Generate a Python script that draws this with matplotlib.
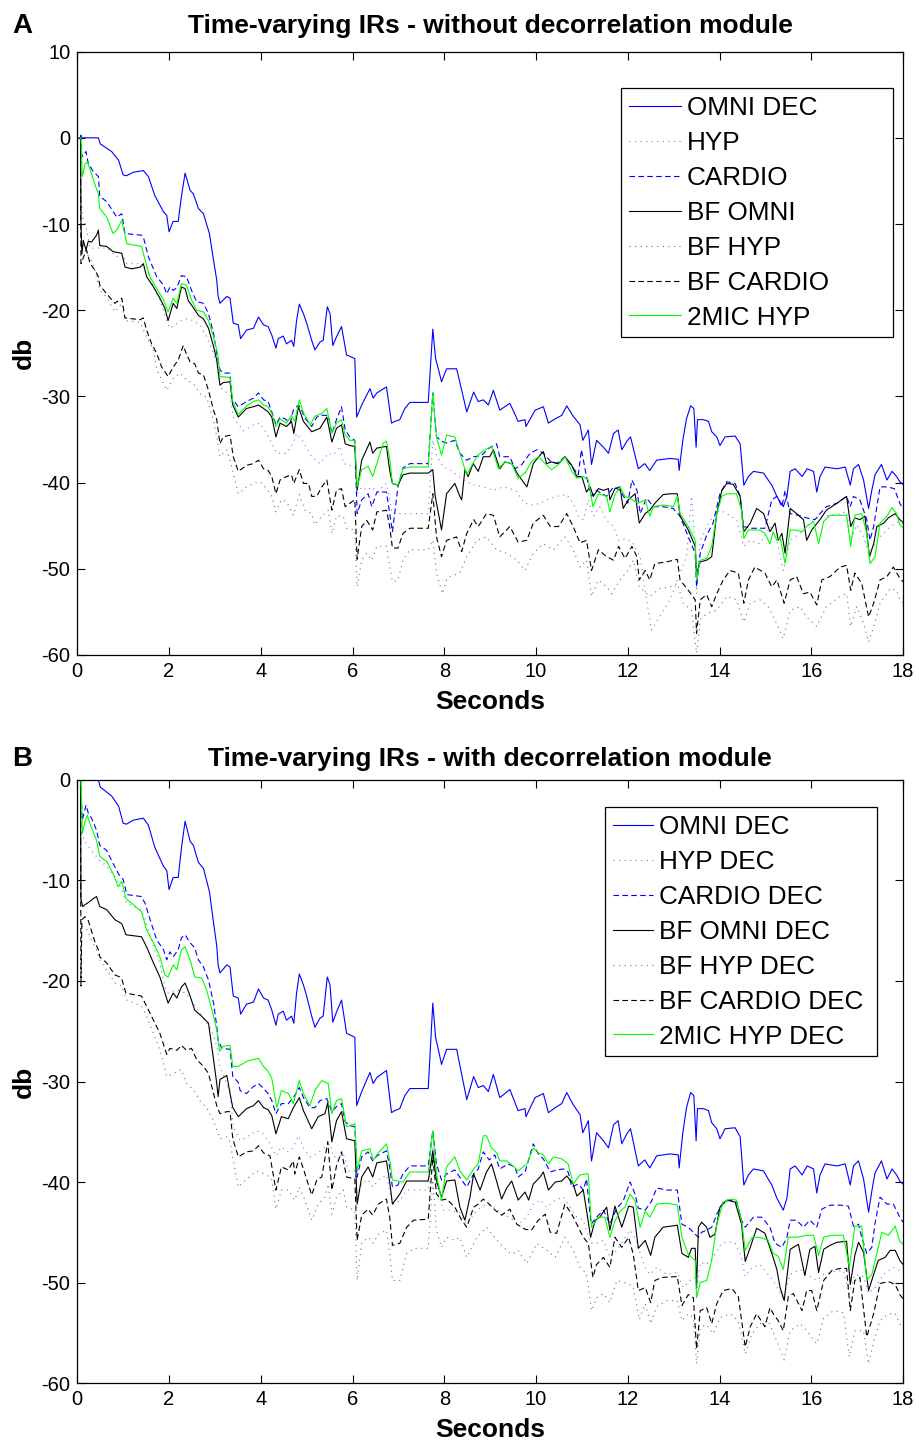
import matplotlib
matplotlib.use('Agg')
import matplotlib.pyplot as plt

plt.rcParams['font.family'] = ['Liberation Sans', 'DejaVu Sans']
plt.rcParams['axes.unicode_minus'] = False

# decay curves as (seconds, dB) pairs
omni_dec = [(0, 0), (0.46, 0), (0.5, -0.7), (0.75, -1.6), (0.9, -2.6), (1.0, -4.3), (1.07, -4.4), (1.22, -4.0),
            (1.44, -3.8), (1.55, -4.5), (1.69, -6.7), (1.88, -8.6), (1.95, -9.0), (2.0, -10.9), (2.09, -9.7),
            (2.2, -9.7), (2.27, -6.8), (2.35, -4.1), (2.46, -6.1), (2.53, -6.5), (2.64, -8.2), (2.75, -8.8),
            (2.88, -11.1), (2.97, -14.2), (3.04, -16.5), (3.07, -18.4), (3.11, -19.2), (3.26, -18.4), (3.33, -18.6),
            (3.4, -21.5), (3.51, -21.7), (3.56, -23.3), (3.69, -22.3), (3.84, -22.1), (3.95, -20.8), (4.06, -21.7),
            (4.16, -21.9), (4.24, -22.9), (4.33, -24.4), (4.38, -23.3), (4.49, -23.0), (4.56, -23.9), (4.67, -23.5),
            (4.72, -24.2), (4.78, -21.2), (4.84, -19.3), (4.93, -20.4), (5.0, -21.5), (5.11, -23.5), (5.18, -24.6),
            (5.29, -23.7), (5.36, -23.5), (5.45, -19.6), (5.51, -20.4), (5.57, -24.1), (5.65, -23.1), (5.76, -21.9),
            (5.87, -25.2), (6.05, -25.6), (6.09, -32.4), (6.2, -31.0), (6.38, -29.1), (6.45, -30.2), (6.53, -29.6),
            (6.74, -28.9), (6.85, -33.1), (6.92, -32.9), (7.03, -32.7), (7.14, -31.4), (7.25, -30.7), (7.65, -30.7),
            (7.75, -22.2), (7.81, -25.6), (7.87, -26.8), (7.94, -28.3), (8.05, -26.8), (8.27, -26.8), (8.38, -29.3),
            (8.49, -31.8), (8.64, -29.5), (8.74, -30.6), (8.85, -30.4), (8.96, -31.0), (9.07, -29.3), (9.21, -31.6),
            (9.43, -30.8), (9.61, -32.9), (9.76, -32.7), (9.78, -33.5), (9.98, -31.6), (10.16, -31.2), (10.27, -33.1),
            (10.42, -32.6), (10.56, -32.2), (10.67, -31.1), (10.81, -32.3), (10.96, -33.3), (11.02, -35.1),
            (11.14, -33.9), (11.21, -37.9), (11.32, -35.1), (11.47, -35.9), (11.58, -36.6), (11.69, -34.3),
            (11.79, -33.9), (11.87, -36.2), (11.98, -35.2), (12.06, -34.7), (12.12, -36.0), (12.23, -38.4),
            (12.37, -37.8), (12.48, -38.6), (12.63, -37.4), (12.92, -37.2), (13.1, -37.3), (13.12, -38.6),
            (13.2, -35.1), (13.28, -32.6), (13.37, -31.1), (13.44, -31.4), (13.49, -35.9), (13.52, -32.7),
            (13.65, -32.7), (13.76, -32.9), (13.83, -34.1), (13.94, -34.7), (14.01, -35.7), (14.12, -34.7),
            (14.34, -34.6), (14.45, -35.5), (14.53, -40.3), (14.63, -39.3), (14.74, -38.7), (14.96, -38.9),
            (15.06, -39.7), (15.14, -40.3), (15.25, -41.6), (15.39, -42.8), (15.47, -41.6), (15.54, -38.7),
            (15.65, -38.4), (15.8, -39.3), (15.91, -38.4), (16.05, -38.7), (16.12, -41.1), (16.19, -39.3),
            (16.3, -38.2), (16.56, -38.4), (16.74, -38.2), (16.85, -40.3), (16.92, -38.4), (17.03, -37.9),
            (17.14, -39.7), (17.25, -43.0), (17.32, -40.9), (17.39, -39.1), (17.53, -37.9), (17.65, -39.7),
            (17.76, -38.7), (17.86, -39.3), (17.93, -39.9), (18.0, -40.2)]

hyp = [(0, 0), (0.07, 0), (0.08, -7.0), (0.12, -9.2), (0.19, -10.3), (0.28, -12.8), (0.49, -12.8), (0.64, -12.8),
       (0.86, -13.8), (0.97, -13.4), (1.08, -14.6), (1.37, -14.6), (1.51, -15.0), (1.66, -17.3), (1.8, -18.8),
       (1.95, -21.2), (2.02, -22.1), (2.13, -21.7), (2.27, -21.2), (2.38, -21.0), (2.53, -21.2), (2.67, -21.7),
       (2.82, -23.1), (2.97, -25.0), (3.04, -26.2), (3.11, -28.9), (3.33, -29.9), (3.4, -32.4), (3.62, -34.0),
       (3.84, -33.3), (3.98, -33.1), (4.13, -34.3), (4.27, -35.8), (4.35, -36.6), (4.56, -36.6), (4.71, -35.4),
       (4.78, -34.3), (4.93, -35.3), (5.11, -37.0), (5.29, -37.8), (5.47, -36.6), (5.58, -36.8), (5.73, -35.8),
       (5.8, -37.8), (5.94, -38.0), (6.05, -38.1), (6.1, -41.3), (6.2, -40.5), (6.31, -40.9), (6.42, -40.5),
       (6.53, -41.1), (6.74, -40.1), (6.87, -43.6), (7.1, -43.6), (7.65, -43.6), (7.75, -35.1), (7.83, -36.8),
       (7.98, -38.2), (8.12, -38.5), (8.42, -39.7), (8.64, -40.3), (8.85, -40.5), (9.07, -40.9), (9.29, -40.5),
       (9.55, -40.9), (9.75, -42.4), (9.93, -42.6), (10.1, -42.4), (10.23, -42.0), (10.45, -41.6), (10.67, -41.4),
       (10.81, -42.4), (10.92, -43.9), (11.03, -44.3), (11.14, -42.0), (11.25, -43.9), (11.39, -42.8),
       (11.54, -44.4), (11.69, -45.1), (11.8, -46.7), (11.98, -46.5), (12.12, -47.1), (12.27, -48.6),
       (12.41, -53.6), (12.52, -57.1), (12.7, -55.5), (12.92, -53.6), (13.14, -50.5), (13.28, -48.6),
       (13.39, -41.6), (13.47, -47.4), (13.5, -52.9), (13.58, -46.7), (13.72, -45.1), (13.86, -43.9),
       (14.01, -43.2), (14.16, -43.6), (14.37, -44.3), (14.53, -47.4), (14.67, -46.7), (14.88, -47.1),
       (15.1, -45.1), (15.25, -46.7), (15.39, -50.2), (15.54, -46.7), (15.76, -45.9), (15.97, -44.7),
       (16.19, -43.9), (16.41, -43.8), (16.63, -43.6), (16.77, -43.4), (16.86, -46.7), (16.99, -44.9),
       (17.14, -46.3), (17.25, -48.2), (17.36, -47.4), (17.5, -46.3), (17.72, -45.1), (17.93, -44.5), (18.0, -44.8)]

cardio = [(0, 0), (0.07, 0), (0.08, 0.5), (0.1, -2.2), (0.19, -1.6), (0.24, -3.0), (0.35, -3.9), (0.46, -4.5),
          (0.49, -6.8), (0.64, -7.4), (0.86, -9.2), (0.97, -8.8), (1.04, -11.1), (1.4, -11.3), (1.44, -11.5),
          (1.55, -13.8), (1.73, -16.1), (1.88, -17.1), (1.95, -18.1), (2.02, -17.3), (2.09, -17.7), (2.17, -17.4),
          (2.27, -16.0), (2.38, -16.1), (2.49, -17.7), (2.6, -19.0), (2.75, -19.2), (2.86, -20.4), (2.97, -22.7),
          (3.04, -25.0), (3.07, -25.8), (3.11, -26.9), (3.18, -27.3), (3.33, -27.3), (3.37, -30.2), (3.51, -31.2),
          (3.69, -30.6), (3.84, -30.2), (3.95, -29.6), (4.06, -30.4), (4.16, -30.6), (4.24, -31.8), (4.33, -33.3),
          (4.42, -32.4), (4.53, -32.6), (4.64, -33.1), (4.71, -31.6), (4.82, -31.0), (4.89, -31.6), (4.96, -32.5),
          (5.11, -33.5), (5.22, -32.4), (5.33, -32.2), (5.47, -32.2), (5.55, -34.3), (5.65, -32.7), (5.76, -31.2),
          (5.84, -33.9), (5.94, -34.7), (6.05, -35.1), (6.1, -43.6), (6.2, -42.0), (6.34, -41.3), (6.42, -42.8),
          (6.53, -41.1), (6.74, -41.1), (6.81, -43.6), (6.87, -45.7), (6.99, -40.5), (7.1, -38.3), (7.25, -37.8),
          (7.65, -37.8), (7.75, -29.6), (7.83, -34.7), (7.98, -35.3), (8.05, -35.4), (8.23, -35.1), (8.34, -36.6),
          (8.49, -37.4), (8.64, -37.0), (8.8, -36.9), (8.98, -36.0), (9.14, -35.5), (9.21, -37.0), (9.43, -37.0),
          (9.54, -38.4), (9.69, -37.9), (9.87, -36.6), (10.02, -36.2), (10.16, -36.6), (10.31, -37.5),
          (10.45, -37.8), (10.63, -37.0), (10.78, -38.1), (10.92, -39.1), (10.99, -36.2), (11.1, -39.3),
          (11.21, -41.6), (11.32, -40.9), (11.54, -41.6), (11.69, -40.5), (11.83, -40.9), (12.0, -42.4),
          (12.09, -39.7), (12.2, -40.9), (12.27, -43.6), (12.41, -41.8), (12.56, -42.8), (12.77, -42.8),
          (12.99, -43.0), (13.14, -43.9), (13.32, -46.3), (13.47, -48.2), (13.5, -52.1), (13.58, -48.2),
          (13.72, -46.1), (13.86, -44.7), (14.01, -41.3), (14.16, -39.9), (14.34, -40.1), (14.45, -41.6),
          (14.52, -45.1), (14.67, -45.3), (14.99, -45.3), (15.14, -42.0), (15.25, -41.6), (15.36, -42.8),
          (15.43, -40.9), (15.54, -43.6), (15.72, -43.8), (15.9, -44.1), (16.08, -44.3), (16.19, -43.6),
          (16.33, -42.8), (16.56, -42.4), (16.77, -41.6), (16.85, -42.8), (16.92, -41.6), (17.06, -42.0),
          (17.21, -44.3), (17.28, -46.7), (17.36, -45.1), (17.5, -40.5), (17.65, -40.5), (17.81, -40.7),
          (17.93, -42.4), (18.0, -43.0)]

bf_omni = [(0, 0), (0.07, 0), (0.08, -9.9), (0.1, -13.5), (0.13, -11.9), (0.19, -13.0), (0.24, -12.0), (0.31, -12.1),
           (0.42, -11.3), (0.46, -10.7), (0.49, -12.5), (0.64, -12.6), (0.78, -13.2), (0.97, -13.4), (1.04, -15.0),
           (1.19, -15.2), (1.37, -15.0), (1.44, -14.6), (1.51, -16.1), (1.66, -17.3), (1.8, -18.6), (1.91, -19.8),
           (1.98, -21.2), (2.09, -19.2), (2.17, -19.8), (2.27, -17.3), (2.35, -17.5), (2.42, -18.9), (2.49, -19.4),
           (2.64, -20.6), (2.75, -21.0), (2.86, -22.1), (2.97, -24.2), (3.04, -25.8), (3.11, -28.7), (3.18, -28.4),
           (3.33, -28.3), (3.39, -31.0), (3.51, -32.4), (3.69, -31.4), (3.84, -31.2), (3.95, -31.0), (4.06, -31.4),
           (4.16, -31.8), (4.24, -32.4), (4.33, -34.7), (4.42, -33.1), (4.56, -33.5), (4.67, -32.9), (4.72, -34.3),
           (4.82, -31.2), (4.93, -32.9), (5.11, -34.1), (5.29, -33.7), (5.44, -32.4), (5.55, -35.3), (5.65, -33.7),
           (5.76, -33.3), (5.84, -35.5), (5.94, -35.7), (6.05, -35.8), (6.1, -40.9), (6.2, -37.4), (6.38, -35.3),
           (6.44, -36.6), (6.53, -36.0), (6.74, -35.8), (6.81, -38.6), (6.87, -40.1), (6.99, -40.3), (7.1, -39.1),
           (7.25, -38.9), (7.65, -38.9), (7.75, -38.5), (7.8, -41.5), (7.94, -45.5), (8.05, -41.3), (8.23, -40.1),
           (8.34, -41.6), (8.38, -42.0), (8.45, -38.5), (8.52, -39.3), (8.63, -37.8), (8.74, -38.7), (8.85, -37.0),
           (8.99, -37.0), (9.07, -36.2), (9.21, -38.4), (9.32, -37.6), (9.47, -37.8), (9.61, -39.1), (9.8, -40.5),
           (9.94, -37.8), (10.09, -36.8), (10.16, -36.4), (10.23, -37.8), (10.34, -37.6), (10.49, -37.8),
           (10.63, -37.0), (10.78, -38.0), (10.89, -39.3), (11.0, -39.3), (11.1, -41.1), (11.18, -40.5),
           (11.25, -41.6), (11.36, -40.7), (11.47, -40.9), (11.58, -40.7), (11.61, -42.0), (11.72, -40.7),
           (11.83, -40.5), (11.9, -43.0), (12.01, -42.0), (12.16, -41.3), (12.25, -44.7), (12.38, -43.6),
           (12.48, -43.2), (12.59, -42.4), (12.77, -41.4), (12.92, -41.3), (13.08, -41.3), (13.14, -43.9),
           (13.32, -45.5), (13.47, -47.4), (13.5, -50.5), (13.58, -49.2), (13.72, -49.0), (13.83, -48.6),
           (13.94, -43.6), (14.05, -40.9), (14.16, -40.1), (14.3, -40.2), (14.45, -41.6), (14.53, -45.7),
           (14.67, -44.7), (14.81, -43.0), (14.96, -43.6), (15.1, -45.7), (15.21, -44.7), (15.28, -46.7),
           (15.36, -45.9), (15.43, -48.2), (15.54, -43.0), (15.68, -43.6), (15.83, -44.3), (15.9, -46.7),
           (16.01, -45.5), (16.19, -44.3), (16.33, -43.2), (16.56, -42.4), (16.77, -41.6), (16.86, -45.1),
           (16.95, -44.1), (17.06, -44.3), (17.17, -43.9), (17.27, -48.6), (17.36, -47.1), (17.43, -45.1),
           (17.58, -44.7), (17.68, -44.1), (17.83, -43.6), (17.93, -44.3), (18.0, -44.6)]

bf_hyp = [(0, 0), (0.07, 0), (0.08, -12.0), (0.2, -13.4), (0.35, -14.6), (0.49, -17.7), (0.64, -18.5), (0.82, -20.2),
          (0.97, -19.2), (1.04, -21.2), (1.37, -21.4), (1.51, -23.1), (1.66, -24.6), (1.73, -26.8), (1.95, -29.3),
          (2.09, -27.9), (2.24, -27.3), (2.38, -28.1), (2.53, -28.5), (2.67, -29.7), (2.82, -30.1), (2.97, -32.8),
          (3.04, -34.7), (3.11, -37.0), (3.26, -36.2), (3.33, -37.4), (3.4, -38.9), (3.51, -41.3), (3.69, -40.5),
          (3.84, -40.1), (3.98, -39.9), (4.13, -40.7), (4.24, -41.6), (4.33, -43.4), (4.45, -42.0), (4.56, -42.2),
          (4.71, -43.8), (4.84, -41.4), (4.96, -43.2), (5.11, -43.6), (5.18, -44.9), (5.33, -43.9), (5.47, -43.2),
          (5.55, -45.9), (5.65, -43.9), (5.8, -43.9), (5.87, -45.3), (6.05, -45.5), (6.1, -52.1), (6.2, -49.0),
          (6.31, -48.2), (6.42, -49.0), (6.53, -47.4), (6.74, -47.4), (6.81, -49.7), (6.87, -51.5), (6.99, -51.3),
          (7.1, -49.0), (7.25, -47.8), (7.65, -47.8), (7.75, -46.7), (7.83, -50.5), (7.96, -52.9), (8.05, -51.3),
          (8.12, -50.9), (8.34, -50.5), (8.49, -48.6), (8.71, -46.7), (8.92, -46.3), (9.14, -47.8), (9.36, -48.2),
          (9.58, -49.0), (9.76, -50.2), (9.94, -48.2), (10.16, -47.1), (10.38, -47.8), (10.63, -46.3),
          (10.81, -47.8), (10.96, -49.8), (11.1, -49.0), (11.21, -53.2), (11.36, -51.3), (11.54, -52.1),
          (11.65, -52.9), (11.83, -51.3), (12.0, -50.2), (12.12, -49.0), (12.25, -52.1), (12.48, -53.2),
          (12.7, -52.3), (12.92, -52.1), (13.08, -51.7), (13.21, -54.0), (13.39, -54.8), (13.5, -59.8),
          (13.58, -55.9), (13.72, -55.2), (13.94, -54.8), (14.16, -53.2), (14.37, -53.6), (14.53, -56.2),
          (14.67, -54.0), (14.88, -53.6), (15.06, -54.4), (15.18, -55.6), (15.39, -58.1), (15.54, -54.8),
          (15.76, -54.4), (15.9, -55.6), (16.12, -56.7), (16.33, -54.4), (16.63, -53.2), (16.77, -52.9),
          (16.86, -56.7), (16.99, -54.4), (17.14, -56.3), (17.25, -58.5), (17.36, -56.7), (17.5, -54.0),
          (17.72, -52.3), (17.86, -52.5), (17.93, -53.6), (18.0, -54.0)]

bf_cardio = [(0, 0), (0.07, 0), (0.08, -14.6), (0.2, -13.0), (0.28, -14.6), (0.39, -15.4), (0.46, -16.1),
             (0.49, -17.1), (0.64, -18.1), (0.82, -19.2), (0.97, -18.6), (1.04, -20.9), (1.37, -21.1), (1.44, -20.9),
             (1.51, -22.3), (1.62, -23.9), (1.73, -25.0), (1.84, -26.6), (1.98, -27.7), (2.09, -26.6), (2.2, -25.8),
             (2.31, -24.1), (2.38, -25.1), (2.46, -26.0), (2.56, -26.2), (2.64, -27.3), (2.75, -27.5), (2.86, -29.3),
             (2.97, -31.6), (3.04, -32.7), (3.11, -35.5), (3.18, -34.7), (3.33, -34.5), (3.4, -37.0), (3.51, -38.7),
             (3.69, -38.0), (3.84, -37.8), (3.95, -37.4), (4.06, -38.4), (4.16, -38.6), (4.24, -39.3), (4.33, -41.3),
             (4.42, -39.7), (4.56, -39.3), (4.67, -39.1), (4.72, -40.1), (4.84, -38.5), (4.93, -40.1), (5.04, -40.1),
             (5.11, -41.6), (5.22, -41.6), (5.33, -40.5), (5.44, -39.7), (5.55, -43.2), (5.65, -40.9), (5.76, -40.7),
             (5.84, -42.8), (5.94, -42.4), (6.05, -42.0), (6.1, -48.9), (6.2, -45.1), (6.31, -44.4), (6.44, -45.5),
             (6.53, -43.4), (6.74, -43.2), (6.81, -45.1), (6.87, -47.6), (6.99, -47.6), (7.1, -45.9), (7.25, -45.3),
             (7.65, -45.3), (7.75, -41.3), (7.83, -46.3), (7.94, -48.6), (8.05, -46.7), (8.27, -46.3), (8.38, -48.0),
             (8.49, -45.9), (8.64, -44.3), (8.74, -45.1), (8.92, -43.6), (9.07, -43.8), (9.21, -46.3), (9.43, -45.1),
             (9.61, -46.9), (9.8, -46.7), (9.94, -44.7), (10.16, -43.8), (10.31, -45.1), (10.49, -45.1),
             (10.67, -43.6), (10.81, -45.1), (10.96, -47.0), (11.1, -46.7), (11.21, -50.2), (11.36, -47.8),
             (11.54, -48.6), (11.69, -49.0), (11.8, -47.4), (11.94, -48.8), (12.09, -47.4), (12.2, -48.6),
             (12.25, -51.3), (12.38, -50.2), (12.48, -51.3), (12.59, -49.4), (12.85, -49.2), (13.08, -48.9),
             (13.14, -51.3), (13.32, -52.5), (13.47, -53.6), (13.5, -57.5), (13.58, -53.6), (13.72, -53.0),
             (13.83, -54.4), (13.94, -52.9), (14.08, -51.3), (14.23, -50.2), (14.41, -50.5), (14.53, -54.0),
             (14.63, -51.3), (14.77, -49.8), (14.99, -50.5), (15.14, -52.1), (15.25, -51.3), (15.41, -54.0),
             (15.54, -51.3), (15.68, -50.9), (15.83, -52.9), (15.97, -52.7), (16.12, -54.2), (16.23, -51.3),
             (16.41, -50.9), (16.63, -49.8), (16.77, -49.6), (16.86, -52.5), (16.95, -50.5), (17.1, -51.7),
             (17.25, -55.6), (17.36, -54.0), (17.5, -51.3), (17.65, -50.9), (17.79, -49.8), (17.93, -51.1),
             (18.0, -51.5)]

mic2_hyp = [(0, 0), (0.08, 0), (0.11, -4.5), (0.17, -3.0), (0.22, -2.8), (0.28, -3.7), (0.39, -5.5), (0.46, -6.5),
            (0.49, -8.2), (0.64, -9.2), (0.78, -11.1), (0.86, -10.7), (0.97, -9.6), (1.08, -12.3), (1.4, -12.6),
            (1.48, -14.2), (1.58, -16.1), (1.73, -17.5), (1.88, -18.8), (1.98, -20.2), (2.09, -18.6), (2.17, -19.2),
            (2.27, -16.9), (2.38, -17.1), (2.49, -18.8), (2.6, -20.0), (2.75, -20.2), (2.86, -21.2), (2.97, -23.1),
            (3.04, -24.6), (3.07, -25.4), (3.11, -27.7), (3.33, -27.8), (3.39, -30.6), (3.51, -32.1), (3.69, -31.1),
            (3.84, -30.6), (3.95, -30.4), (4.06, -31.0), (4.16, -31.2), (4.24, -32.0), (4.33, -33.5), (4.42, -32.6),
            (4.56, -33.1), (4.67, -32.2), (4.74, -32.9), (4.84, -30.4), (4.93, -31.9), (5.08, -33.3), (5.18, -32.3),
            (5.33, -32.0), (5.44, -31.4), (5.55, -34.3), (5.65, -33.1), (5.76, -32.7), (5.84, -34.5), (5.94, -35.1),
            (6.05, -35.1), (6.1, -40.5), (6.2, -38.5), (6.34, -38.1), (6.44, -39.3), (6.53, -37.8), (6.67, -35.4),
            (6.74, -35.2), (6.81, -37.2), (6.87, -40.1), (6.99, -40.3), (7.1, -38.4), (7.25, -38.2), (7.65, -38.2),
            (7.75, -29.6), (7.83, -34.7), (7.94, -36.8), (8.05, -34.5), (8.23, -34.7), (8.34, -36.6), (8.49, -39.1),
            (8.64, -37.6), (8.74, -36.8), (8.88, -36.2), (9.03, -35.8), (9.18, -38.4), (9.32, -37.6), (9.47, -37.8),
            (9.61, -39.5), (9.76, -38.9), (9.9, -37.6), (10.05, -37.0), (10.2, -37.8), (10.34, -38.5),
            (10.49, -37.9), (10.63, -37.0), (10.78, -38.7), (10.89, -39.5), (11.03, -39.3), (11.14, -39.7),
            (11.24, -42.8), (11.36, -41.3), (11.54, -41.6), (11.61, -43.4), (11.72, -41.4), (11.83, -40.5),
            (11.94, -41.6), (12.09, -42.0), (12.23, -42.4), (12.38, -42.0), (12.48, -43.9), (12.56, -42.8),
            (12.77, -42.6), (12.99, -42.8), (13.08, -41.6), (13.14, -43.6), (13.32, -45.1), (13.47, -46.7),
            (13.5, -51.3), (13.58, -49.0), (13.72, -48.8), (13.83, -47.4), (13.94, -43.6), (14.05, -41.6),
            (14.16, -41.3), (14.37, -41.3), (14.48, -43.2), (14.53, -46.5), (14.63, -45.5), (14.88, -45.5),
            (14.99, -45.9), (15.1, -47.1), (15.17, -45.7), (15.25, -46.7), (15.32, -46.3), (15.43, -49.4),
            (15.54, -45.5), (15.65, -45.5), (15.8, -45.7), (15.9, -45.1), (16.05, -44.5), (16.16, -47.1),
            (16.27, -44.5), (16.41, -43.8), (16.77, -43.8), (16.86, -47.4), (16.95, -43.8), (17.1, -43.6),
            (17.21, -45.9), (17.28, -49.4), (17.39, -48.6), (17.5, -44.7), (17.65, -43.9), (17.76, -42.9),
            (17.86, -43.6), (17.93, -44.9), (18.0, -45.2)]

hyp_dec = [(0, 0), (0.07, 0), (0.08, -5.0), (0.15, -6.0), (0.3, -7.0), (0.49, -8.0), (0.64, -8.6), (0.82, -9.6),
           (0.97, -10.9), (1.08, -12.3), (1.4, -12.9), (1.51, -14.3), (1.66, -16.6), (1.8, -18.2), (1.91, -20.5),
           (1.98, -21.2), (2.09, -21.0), (2.2, -20.9), (2.35, -21.2), (2.49, -21.9), (2.64, -22.9), (2.78, -23.9),
           (2.93, -24.9), (3.04, -26.5), (3.11, -28.5), (3.33, -31.0), (3.4, -34.5), (3.55, -35.9), (3.73, -35.4),
           (3.91, -34.9), (4.06, -35.2), (4.2, -36.2), (4.33, -37.4), (4.45, -36.5), (4.6, -37.0), (4.71, -36.5),
           (4.82, -35.4), (4.93, -36.6), (5.07, -37.5), (5.22, -37.2), (5.4, -36.5), (5.51, -36.2), (5.58, -37.5),
           (5.69, -37.5), (5.8, -37.2), (5.91, -38.9), (6.05, -38.9), (6.1, -41.8), (6.2, -40.2), (6.34, -39.8),
           (6.45, -40.5), (6.56, -39.8), (6.74, -39.3), (6.87, -42.2), (7.03, -41.9), (7.18, -40.8), (7.65, -40.8),
           (7.75, -36.5), (7.83, -40.5), (7.98, -42.8), (8.12, -42.8), (8.34, -43.1), (8.49, -44.2), (8.71, -42.8),
           (8.92, -42.2), (9.1, -42.5), (9.25, -43.2), (9.43, -43.5), (9.61, -44.2), (9.8, -43.5), (9.94, -42.2),
           (10.09, -41.8), (10.23, -42.5), (10.42, -41.8), (10.6, -41.5), (10.74, -42.5), (10.89, -43.5),
           (11.03, -43.8), (11.19, -46.1), (11.32, -46.1), (11.47, -45.8), (11.61, -47.5), (11.76, -46.8),
           (11.9, -45.8), (12.05, -44.8), (12.19, -45.8), (12.27, -47.1), (12.38, -48.5), (12.48, -49.2),
           (12.63, -48.5), (12.85, -49.2), (13.08, -49.0), (13.21, -50.5), (13.36, -49.8), (13.47, -49.5),
           (13.5, -50.8), (13.58, -48.0), (13.72, -48.2), (13.86, -47.5), (14.01, -46.3), (14.16, -45.9),
           (14.34, -46.1), (14.48, -47.5), (14.56, -49.4), (14.71, -48.5), (14.88, -48.2), (15.06, -49.2),
           (15.17, -49.8), (15.39, -51.6), (15.54, -49.2), (15.76, -48.7), (15.9, -49.2), (16.12, -49.8),
           (16.27, -49.2), (16.49, -48.9), (16.7, -48.8), (16.83, -51.1), (16.95, -49.2), (17.14, -49.4),
           (17.25, -51.1), (17.39, -50.5), (17.57, -49.2), (17.79, -48.5), (17.93, -48.8), (18.0, -49.0)]

cardio_dec = [(0, 0), (0.07, 0), (0.11, -4.0), (0.19, -2.5), (0.24, -3.3), (0.31, -3.8), (0.42, -5.0), (0.49, -6.5),
              (0.64, -7.0), (0.78, -8.3), (0.93, -9.6), (1.0, -9.9), (1.08, -11.4), (1.4, -11.6), (1.48, -12.3),
              (1.58, -13.8), (1.73, -15.9), (1.88, -16.9), (1.95, -17.9), (2.02, -17.1), (2.09, -17.6),
              (2.2, -16.9), (2.27, -15.7), (2.35, -15.4), (2.46, -16.2), (2.56, -16.7), (2.64, -17.9), (2.75, -18.6),
              (2.86, -19.9), (2.97, -22.2), (3.04, -24.5), (3.07, -25.9), (3.15, -26.7), (3.33, -26.8),
              (3.39, -29.5), (3.51, -30.1), (3.55, -30.9), (3.69, -31.2), (3.84, -30.5), (3.95, -30.2),
              (4.06, -30.7), (4.16, -31.2), (4.24, -31.9), (4.33, -33.2), (4.45, -32.2), (4.6, -32.2), (4.71, -31.6),
              (4.84, -30.6), (4.93, -31.6), (5.07, -32.6), (5.18, -32.6), (5.29, -31.9), (5.44, -31.7),
              (5.55, -33.0), (5.65, -32.5), (5.76, -32.2), (5.84, -34.0), (5.94, -34.4), (6.05, -34.5), (6.1, -39.5),
              (6.2, -37.5), (6.34, -37.0), (6.44, -37.9), (6.53, -37.4), (6.74, -36.9), (6.81, -38.5), (6.87, -40.5),
              (6.99, -40.3), (7.1, -39.2), (7.25, -38.4), (7.65, -38.4), (7.75, -34.9), (7.83, -38.2), (7.94, -39.8),
              (8.05, -39.2), (8.23, -38.8), (8.38, -39.8), (8.49, -40.5), (8.64, -39.2), (8.74, -38.7), (8.85, -37.0),
              (8.98, -37.8), (9.1, -37.3), (9.21, -38.7), (9.39, -38.2), (9.54, -38.5), (9.61, -39.5), (9.76, -39.0),
              (9.94, -36.2), (10.05, -37.2), (10.16, -37.7), (10.31, -39.0), (10.45, -38.8), (10.6, -38.7),
              (10.7, -39.0), (10.78, -40.5), (10.92, -40.2), (11.03, -40.8), (11.1, -39.7), (11.2, -44.2),
              (11.32, -43.5), (11.47, -42.8), (11.61, -44.2), (11.76, -42.6), (11.9, -41.9), (12.05, -40.0),
              (12.16, -41.2), (12.23, -42.6), (12.38, -42.8), (12.52, -41.9), (12.63, -40.6), (12.85, -40.8),
              (13.08, -40.8), (13.18, -44.2), (13.32, -44.5), (13.47, -45.2), (13.54, -45.5), (13.61, -45.0),
              (13.72, -44.8), (13.83, -44.5), (13.94, -43.2), (14.08, -42.0), (14.23, -41.8), (14.37, -42.0),
              (14.48, -43.8), (14.56, -44.5), (14.74, -43.5), (14.92, -43.5), (15.1, -44.5), (15.21, -46.1),
              (15.36, -46.5), (15.47, -45.5), (15.54, -43.8), (15.68, -43.8), (15.83, -44.5), (15.97, -43.8),
              (16.12, -44.5), (16.23, -42.7), (16.41, -42.3), (16.63, -42.3), (16.81, -42.4), (16.92, -44.4),
              (17.03, -44.2), (17.1, -45.5), (17.21, -47.1), (17.32, -46.5), (17.39, -44.1), (17.5, -41.5),
              (17.65, -42.2), (17.79, -42.2), (17.93, -43.5), (18.0, -44.0)]

bf_omni_dec = [(0, 0), (0.07, 0), (0.08, -11.9), (0.12, -12.6), (0.17, -12.4), (0.24, -12.2), (0.35, -11.8),
               (0.42, -11.6), (0.49, -12.6), (0.64, -12.9), (0.82, -13.9), (0.97, -14.3), (1.06, -15.4),
               (1.4, -15.6), (1.51, -16.6), (1.66, -18.2), (1.8, -19.6), (1.91, -21.2), (1.98, -22.2),
               (2.09, -21.2), (2.17, -21.7), (2.27, -20.6), (2.35, -20.2), (2.46, -21.5), (2.56, -22.9),
               (2.71, -23.5), (2.86, -24.2), (2.97, -27.8), (3.04, -30.2), (3.07, -31.5), (3.11, -29.8),
               (3.26, -29.4), (3.33, -31.2), (3.39, -32.6), (3.51, -33.5), (3.69, -32.7), (3.84, -32.4),
               (3.95, -31.9), (4.06, -32.6), (4.16, -32.8), (4.24, -33.4), (4.33, -35.2), (4.45, -33.5),
               (4.6, -33.7), (4.71, -32.6), (4.84, -31.6), (4.93, -32.9), (5.11, -34.7), (5.25, -33.5),
               (5.4, -33.2), (5.46, -32.1), (5.55, -36.0), (5.65, -33.9), (5.76, -33.0), (5.87, -35.7),
               (6.05, -35.9), (6.1, -42.2), (6.2, -39.5), (6.34, -38.5), (6.44, -39.5), (6.53, -38.1), (6.74, -37.9),
               (6.81, -40.0), (6.87, -42.2), (7.03, -41.2), (7.18, -39.9), (7.65, -39.9), (7.75, -36.9),
               (7.83, -39.9), (7.94, -41.5), (8.05, -39.9), (8.23, -39.8), (8.34, -42.5), (8.45, -43.8),
               (8.56, -41.5), (8.64, -39.2), (8.78, -40.8), (8.92, -39.0), (9.03, -38.2), (9.14, -39.9),
               (9.25, -41.7), (9.36, -40.6), (9.47, -39.9), (9.61, -41.8), (9.76, -41.0), (9.84, -41.8),
               (9.94, -40.2), (10.09, -39.5), (10.16, -39.0), (10.27, -40.8), (10.42, -40.0), (10.56, -39.9),
               (10.67, -39.4), (10.81, -40.2), (10.89, -41.4), (11.03, -40.8), (11.1, -42.8), (11.19, -45.5),
               (11.29, -43.8), (11.39, -43.5), (11.54, -42.5), (11.61, -44.8), (11.72, -42.4), (11.87, -44.5),
               (12.02, -42.4), (12.12, -42.5), (12.23, -46.6), (12.38, -45.8), (12.5, -47.3), (12.59, -45.5),
               (12.77, -44.5), (13.08, -44.3), (13.18, -47.1), (13.32, -47.5), (13.39, -46.6), (13.47, -46.6),
               (13.5, -50.5), (13.54, -44.5), (13.61, -44.0), (13.72, -44.5), (13.79, -45.5), (13.9, -45.2),
               (14.01, -42.5), (14.16, -41.8), (14.34, -42.0), (14.48, -44.2), (14.56, -47.9), (14.67, -46.5),
               (14.81, -44.6), (14.99, -45.1), (15.14, -47.1), (15.25, -48.7), (15.32, -50.5), (15.41, -51.8),
               (15.54, -46.7), (15.72, -46.2), (15.86, -49.3), (15.97, -46.7), (16.08, -46.4), (16.16, -49.0),
               (16.27, -46.7), (16.41, -46.3), (16.56, -46.0), (16.77, -45.9), (16.85, -50.2), (16.95, -47.3),
               (17.03, -46.0), (17.14, -47.0), (17.25, -50.8), (17.36, -49.2), (17.46, -47.8), (17.61, -47.5),
               (17.72, -46.8), (17.83, -46.8), (17.93, -47.8), (18.0, -48.2)]

bf_hyp_dec = [(0, 0), (0.07, 0), (0.08, -14.5), (0.2, -14.8), (0.3, -15.8), (0.42, -16.9), (0.49, -17.9),
              (0.64, -18.9), (0.82, -20.2), (0.97, -20.5), (1.08, -21.9), (1.4, -22.5), (1.51, -23.5), (1.66, -25.2),
              (1.8, -26.8), (1.95, -29.5), (2.09, -29.2), (2.27, -28.8), (2.38, -30.2), (2.53, -30.8), (2.67, -31.9),
              (2.82, -32.6), (2.97, -33.9), (3.11, -35.7), (3.26, -35.5), (3.33, -36.0), (3.4, -37.9), (3.51, -40.5),
              (3.69, -39.7), (3.91, -38.9), (4.13, -39.3), (4.24, -39.8), (4.33, -42.7), (4.45, -40.8), (4.6, -40.8),
              (4.74, -41.8), (4.84, -40.5), (4.96, -41.8), (5.11, -43.8), (5.25, -42.2), (5.4, -41.5), (5.47, -40.2),
              (5.55, -43.2), (5.65, -41.5), (5.8, -40.8), (5.87, -42.5), (6.05, -42.8), (6.1, -49.8), (6.2, -46.1),
              (6.34, -45.5), (6.45, -46.1), (6.56, -45.2), (6.74, -44.8), (6.81, -47.0), (6.87, -49.8),
              (7.03, -49.8), (7.18, -47.1), (7.36, -46.6), (7.65, -46.6), (7.75, -39.8), (7.83, -44.8),
              (7.94, -46.5), (8.05, -45.5), (8.23, -45.8), (8.34, -45.5), (8.49, -47.5), (8.71, -45.5),
              (8.92, -44.5), (9.1, -45.5), (9.29, -46.5), (9.47, -47.2), (9.61, -46.8), (9.8, -48.1), (10.02, -46.1),
              (10.23, -46.8), (10.42, -47.5), (10.63, -45.5), (10.81, -46.8), (10.96, -48.5), (11.1, -49.1),
              (11.21, -52.8), (11.32, -51.5), (11.47, -51.1), (11.61, -52.0), (11.76, -49.8), (12.0, -50.1),
              (12.12, -50.4), (12.25, -53.7), (12.38, -52.1), (12.5, -54.1), (12.63, -52.4), (12.85, -51.8),
              (13.08, -51.8), (13.18, -53.8), (13.32, -53.1), (13.43, -53.5), (13.5, -58.1), (13.58, -54.5),
              (13.72, -54.2), (13.86, -55.1), (14.01, -53.5), (14.23, -53.1), (14.41, -53.8), (14.56, -57.1),
              (14.71, -55.1), (14.88, -54.1), (15.06, -53.8), (15.21, -55.4), (15.41, -57.7), (15.54, -54.8),
              (15.76, -54.1), (15.9, -54.8), (16.12, -56.1), (16.27, -53.5), (16.49, -52.8), (16.7, -53.0),
              (16.83, -57.4), (16.95, -54.8), (17.14, -54.8), (17.25, -58.1), (17.36, -55.9), (17.5, -53.8),
              (17.68, -53.1), (17.83, -53.1), (17.93, -54.1), (18.0, -54.5)]

bf_cardio_dec = [(0, 0), (0.07, 0), (0.08, -20.5), (0.1, -13.9), (0.17, -13.6), (0.24, -14.0), (0.39, -16.2),
                 (0.46, -16.9), (0.49, -17.6), (0.64, -18.2), (0.82, -19.4), (0.93, -19.6), (0.97, -19.8),
                 (1.06, -21.2), (1.4, -21.5), (1.51, -22.5), (1.66, -23.9), (1.8, -25.2), (1.95, -27.3),
                 (2.02, -26.7), (2.17, -26.9), (2.27, -26.4), (2.38, -26.9), (2.49, -26.7), (2.6, -27.8),
                 (2.75, -28.5), (2.86, -29.2), (2.97, -31.2), (3.04, -32.4), (3.11, -33.2), (3.26, -33.0),
                 (3.33, -33.0), (3.39, -35.7), (3.51, -37.5), (3.69, -37.0), (3.84, -36.9), (3.95, -36.4),
                 (4.06, -37.1), (4.2, -37.4), (4.33, -40.8), (4.45, -38.5), (4.6, -38.8), (4.71, -37.9),
                 (4.74, -39.2), (4.84, -37.5), (4.93, -38.7), (5.11, -41.3), (5.22, -39.8), (5.33, -39.5),
                 (5.46, -36.0), (5.55, -40.8), (5.65, -38.4), (5.76, -37.0), (5.87, -39.5), (6.05, -39.7),
                 (6.1, -45.8), (6.2, -43.3), (6.34, -42.7), (6.44, -43.3), (6.56, -42.2), (6.74, -41.7),
                 (6.81, -43.5), (6.87, -46.3), (7.03, -46.1), (7.18, -44.5), (7.33, -43.8), (7.65, -43.7),
                 (7.75, -37.5), (7.83, -41.2), (7.94, -41.8), (8.05, -41.7), (8.23, -42.5), (8.38, -43.8),
                 (8.49, -44.5), (8.64, -42.5), (8.74, -42.2), (8.85, -41.7), (8.98, -42.2), (9.11, -42.8),
                 (9.25, -43.3), (9.43, -42.7), (9.58, -44.2), (9.76, -44.7), (9.9, -44.8), (10.05, -43.8),
                 (10.2, -43.2), (10.31, -45.0), (10.45, -45.1), (10.63, -42.2), (10.78, -43.2), (10.92, -44.5),
                 (11.03, -45.5), (11.14, -46.1), (11.24, -49.5), (11.32, -48.2), (11.47, -47.5), (11.61, -48.5),
                 (11.72, -45.5), (11.87, -46.5), (12.02, -45.5), (12.12, -47.2), (12.23, -50.8), (12.38, -50.5),
                 (12.5, -52.0), (12.59, -49.8), (12.74, -49.5), (13.08, -49.4), (13.18, -52.3), (13.32, -51.2),
                 (13.43, -51.5), (13.5, -56.6), (13.58, -52.8), (13.72, -52.5), (13.83, -54.1), (13.94, -52.1),
                 (14.08, -50.8), (14.27, -50.6), (14.41, -51.4), (14.56, -56.4), (14.67, -54.4), (14.81, -53.1),
                 (14.99, -54.4), (15.1, -52.5), (15.17, -53.1), (15.28, -53.8), (15.39, -54.8), (15.5, -51.4),
                 (15.61, -51.1), (15.8, -52.8), (15.9, -50.8), (16.01, -50.8), (16.12, -52.8), (16.27, -49.8),
                 (16.45, -48.8), (16.63, -48.6), (16.77, -48.6), (16.85, -52.8), (16.95, -49.8), (17.06, -49.5),
                 (17.21, -55.4), (17.36, -53.1), (17.5, -50.1), (17.68, -49.9), (17.83, -50.2), (17.93, -51.2),
                 (18.0, -51.6)]

mic2_hyp_dec = [(0, 0), (0.08, 0), (0.11, -5.3), (0.17, -4.1), (0.22, -3.5), (0.28, -4.4), (0.42, -6.0),
                (0.49, -7.6), (0.64, -8.1), (0.78, -9.3), (0.89, -10.6), (0.97, -10.1), (1.06, -11.8), (1.4, -13.1),
                (1.51, -14.9), (1.66, -16.2), (1.8, -17.6), (1.91, -19.4), (1.98, -19.6), (2.09, -18.4),
                (2.17, -18.9), (2.27, -16.9), (2.35, -16.6), (2.46, -17.9), (2.56, -19.6), (2.71, -19.7),
                (2.82, -20.9), (2.97, -23.5), (3.04, -24.9), (3.1, -27.0), (3.18, -26.5), (3.33, -26.4),
                (3.39, -28.5), (3.51, -28.5), (3.69, -28.0), (3.84, -27.8), (3.95, -27.7), (4.06, -28.5),
                (4.16, -29.0), (4.24, -29.7), (4.35, -32.6), (4.45, -30.9), (4.6, -31.2), (4.71, -32.2),
                (4.84, -29.9), (4.93, -31.2), (5.07, -32.4), (5.18, -30.9), (5.33, -29.9), (5.47, -30.2),
                (5.55, -33.2), (5.65, -31.9), (5.76, -31.7), (5.87, -34.5), (6.05, -34.2), (6.1, -38.8),
                (6.2, -36.9), (6.38, -36.7), (6.45, -37.8), (6.56, -37.1), (6.74, -36.2), (6.81, -37.8),
                (6.87, -39.8), (7.1, -40.0), (7.25, -39.0), (7.65, -39.0), (7.75, -34.9), (7.83, -39.2),
                (7.94, -41.8), (8.05, -38.5), (8.23, -37.5), (8.34, -38.9), (8.49, -39.8), (8.64, -38.7),
                (8.74, -38.2), (8.85, -35.4), (8.92, -35.4), (9.03, -36.6), (9.14, -37.1), (9.21, -37.9),
                (9.36, -37.9), (9.5, -38.4), (9.61, -38.9), (9.8, -38.2), (9.94, -36.6), (10.05, -37.1),
                (10.16, -37.3), (10.27, -38.2), (10.38, -37.5), (10.56, -37.7), (10.7, -38.2), (10.81, -40.2),
                (10.96, -39.3), (11.07, -39.2), (11.14, -39.2), (11.21, -44.5), (11.36, -43.5), (11.5, -43.5),
                (11.61, -45.5), (11.72, -43.9), (11.83, -42.9), (11.94, -42.5), (12.05, -41.2), (12.16, -41.9),
                (12.27, -44.5), (12.38, -42.9), (12.48, -43.5), (12.63, -42.2), (12.85, -42.1), (13.08, -42.3),
                (13.18, -45.5), (13.32, -47.2), (13.47, -47.8), (13.5, -51.5), (13.58, -50.0), (13.72, -49.8),
                (13.83, -47.8), (13.94, -44.2), (14.08, -42.0), (14.23, -41.7), (14.37, -41.8), (14.48, -43.8),
                (14.56, -46.8), (14.71, -45.5), (14.88, -45.5), (15.06, -45.8), (15.17, -47.1), (15.28, -47.4),
                (15.39, -48.7), (15.5, -45.5), (15.68, -45.5), (15.9, -45.3), (16.05, -45.3), (16.16, -47.3),
                (16.27, -45.5), (16.45, -45.3), (16.7, -45.3), (16.83, -48.5), (16.95, -44.4), (17.1, -44.4),
                (17.21, -49.8), (17.32, -49.2), (17.43, -47.1), (17.54, -45.0), (17.68, -45.3), (17.83, -44.4),
                (17.93, -45.9), (18.0, -46.2)]

labels_a = ['OMNI DEC', 'HYP', 'CARDIO', 'BF OMNI', 'BF HYP', 'BF CARDIO', '2MIC HYP']
labels_b = ['OMNI DEC', 'HYP DEC', 'CARDIO DEC', 'BF OMNI DEC', 'BF HYP DEC', 'BF CARDIO DEC', '2MIC HYP DEC']
series_a = [omni_dec, hyp, cardio, bf_omni, bf_hyp, bf_cardio, mic2_hyp]
series_b = [omni_dec, hyp_dec, cardio_dec, bf_omni_dec, bf_hyp_dec, bf_cardio_dec, mic2_hyp_dec]

BLUE = '#0000ff'
GREEN = '#00ff00'
DOT = (0, (1, 4))
DASH = (0, (5, 3))
line_styles = [
    dict(color=BLUE, linestyle='-'),
    dict(color=BLUE, linestyle=DOT, alpha=0.55),
    dict(color=BLUE, linestyle=DASH),
    dict(color='black', linestyle='-'),
    dict(color='black', linestyle=DOT, alpha=0.55),
    dict(color='black', linestyle=DASH),
    dict(color=GREEN, linestyle='-'),
]


def draw_panel(ax, series, labels, ylim, title, title_pad, legend_box, handle_len):
    for data, label, style in zip(series, labels, line_styles):
        t, db = zip(*data)
        ax.plot(t, db, linewidth=0.8, label=label, **style)
    ax.set_xlim(0, 18)
    ax.set_ylim(*ylim)
    ax.set_xticks(range(0, 19, 2))
    ax.set_yticks(range(ylim[0], ylim[1] + 1, 10))
    ax.tick_params(direction='in', top=True, right=True, length=6, width=0.8,
                   labelsize=14.5, pad=5)
    for spine in ax.spines.values():
        spine.set_linewidth(0.9)
    ax.set_title(title, fontsize=19, fontweight='bold', pad=title_pad)
    ax.set_xlabel('Seconds', fontsize=19, fontweight='bold', va='baseline')
    ax.xaxis.set_label_coords(0.5, -0.09)
    ax.set_ylabel('db', fontsize=19, fontweight='bold')
    ax.yaxis.set_label_coords(-0.05, 0.5)
    leg = ax.legend(loc='upper left', bbox_to_anchor=legend_box, mode='expand', fontsize=18.8,
                    fancybox=False, edgecolor='black', framealpha=1,
                    handlelength=handle_len, handletextpad=0.22, labelspacing=0.42,
                    borderpad=0.3, borderaxespad=0)
    leg.get_frame().set_linewidth(0.9)


fig = plt.figure(figsize=(9.19, 14.42), dpi=100)
ax_a = fig.add_axes([0.0841, 0.5458, 0.8985, 0.4184])
ax_b = fig.add_axes([0.0841, 0.0409, 0.8985, 0.4182])

draw_panel(ax_a, series_a, labels_a, (-60, 10),
           'Time-varying IRs - without decorrelation module', 13.5,
           (0.6585, 0.5337, 0.3294, 0.406), 2.0)
draw_panel(ax_b, series_b, labels_b, (-60, 0),
           'Time-varying IRs - with decorrelation module', 10,
           (0.639, 0.5478, 0.3294, 0.4074), 1.55)

fig.text(12 / 919, 1 - 33 / 1442, 'A', fontsize=20, fontweight='bold')
fig.text(12 / 919, 1 - 766 / 1442, 'B', fontsize=20, fontweight='bold')

fig.savefig('out.png', dpi=100)
